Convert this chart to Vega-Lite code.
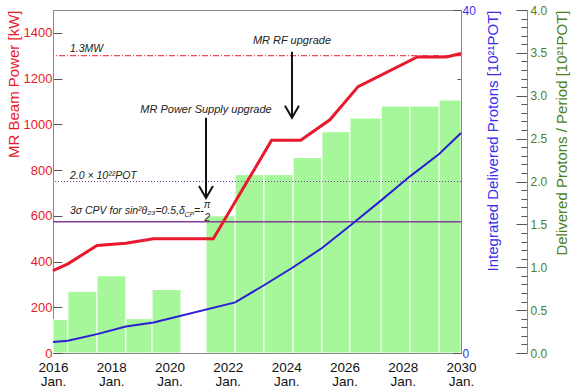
{
  "$schema": "https://vega.github.io/schema/vega-lite/v6.json",
  "width": 408,
  "height": 343,
  "autosize": {"type": "none"},
  "padding": {"left": 53, "top": 10, "right": 110, "bottom": 34},
  "background": "white",
  "config": {
    "font": "Liberation Sans",
    "view": {"stroke": "#888", "strokeWidth": 1},
    "axis": {"titleFontWeight": "normal", "zindex": 1, "domainColor": "#888", "tickColor": "#555", "grid": false}
  },
  "datasets": {
    "bars": [
      {"start": 2016.0, "end": 2016.51, "pot": 0.39},
      {"start": 2016.51, "end": 2017.51, "pot": 0.72},
      {"start": 2017.51, "end": 2018.5, "pot": 0.9},
      {"start": 2018.5, "end": 2019.4, "pot": 0.4},
      {"start": 2019.4, "end": 2020.39, "pot": 0.74},
      {"start": 2021.25, "end": 2022.25, "pot": 1.6},
      {"start": 2022.25, "end": 2023.24, "pot": 2.08},
      {"start": 2023.24, "end": 2024.24, "pot": 2.08},
      {"start": 2024.24, "end": 2025.23, "pot": 2.28},
      {"start": 2025.23, "end": 2026.19, "pot": 2.58},
      {"start": 2026.19, "end": 2027.26, "pot": 2.74},
      {"start": 2027.26, "end": 2028.25, "pot": 2.88},
      {"start": 2028.25, "end": 2029.25, "pot": 2.88},
      {"start": 2029.25, "end": 2030.0, "pot": 2.95}
    ],
    "power": [
      {"year": 2016.0, "kw": 360},
      {"year": 2016.51, "kw": 390},
      {"year": 2017.51, "kw": 470},
      {"year": 2018.5, "kw": 480},
      {"year": 2019.45, "kw": 500},
      {"year": 2021.5, "kw": 500},
      {"year": 2023.5, "kw": 930},
      {"year": 2024.5, "kw": 930},
      {"year": 2025.5, "kw": 1020},
      {"year": 2026.47, "kw": 1165},
      {"year": 2028.5, "kw": 1295},
      {"year": 2029.5, "kw": 1295},
      {"year": 2030.0, "kw": 1310}
    ],
    "integ": [
      {"year": 2016.0, "pot": 1.28},
      {"year": 2016.51, "pot": 1.43},
      {"year": 2017.51, "pot": 2.2},
      {"year": 2018.5, "pot": 3.1},
      {"year": 2019.45, "pot": 3.55},
      {"year": 2022.25, "pot": 5.9},
      {"year": 2023.24, "pot": 7.9},
      {"year": 2024.24, "pot": 10.0},
      {"year": 2025.23, "pot": 12.24},
      {"year": 2026.19, "pot": 14.85},
      {"year": 2027.26, "pot": 17.8},
      {"year": 2028.25, "pot": 20.6},
      {"year": 2029.25, "pot": 23.2},
      {"year": 2030.0, "pot": 25.65}
    ],
    "potTarget": [{"pot": 20}],
    "cpvLevel": [{"pot": 15.3}],
    "mwLevel": [{"kw": 1300}],
    "notes": [
      {"year": 2016.58, "kw": 1318, "label": "1.3MW"},
      {"year": 2016.58, "kw": 762, "label": "2.0 × 10²²POT"},
      {"year": 2016.58, "kw": 608, "label": "3σ CPV for sin²θ₂₃=0.5,δ"},
      {"year": 2020.84, "kw": 608, "label": "=-"}
    ],
    "subs": [{"year": 2020.51, "kw": 596, "label": "CP"}],
    "frac": [
      {"year": 2021.29, "kw": 633, "label": "π"},
      {"year": 2021.29, "kw": 579, "label": "2"}
    ],
    "upgrades": [
      {"year": 2024.2, "top": 1317, "tip": 1029, "textkw": 1352, "label": "MR RF upgrade"},
      {"year": 2021.25, "top": 1029, "tip": 678, "textkw": 1051, "label": "MR Power Supply upgrade"}
    ]
  },
  "layer": [
    {
      "data": {"name": "bars"},
      "mark": {"type": "bar", "fill": "#a6f69a", "stroke": "white", "strokeWidth": 1, "clip": true},
      "encoding": {
        "x": {
          "field": "start", "type": "quantitative",
          "scale": {"domain": [2016, 2030], "nice": false, "zero": false},
          "axis": {
            "values": [2016, 2017, 2018, 2019, 2020, 2021, 2022, 2023, 2024, 2025, 2026, 2027, 2028, 2029, 2030],
            "labelExpr": "datum.value % 2 === 0 ? [format(datum.value, 'd'), 'Jan.'] : ''",
            "tickSize": {"condition": {"test": "datum.value % 2 === 0", "value": -8}, "value": -4},
            "labelFontSize": 13.5, "labelColor": "#111", "labelLineHeight": 14, "labelPadding": 15,
            "labelFlush": false, "labelOverlap": false, "title": null
          }
        },
        "x2": {"field": "end"},
        "y": {
          "field": "pot", "type": "quantitative",
          "scale": {"domain": [0, 4], "nice": false},
          "axis": {
            "orient": "right", "offset": 66,
            "values": [0, 0.1, 0.2, 0.3, 0.4, 0.5, 0.6, 0.7, 0.8, 0.9, 1.0, 1.1, 1.2, 1.3, 1.4, 1.5, 1.6, 1.7, 1.8, 1.9, 2.0, 2.1, 2.2, 2.3, 2.4, 2.5, 2.6, 2.7, 2.8, 2.9, 3.0, 3.1, 3.2, 3.3, 3.4, 3.5, 3.6, 3.7, 3.8, 3.9, 4.0],
            "labelExpr": "abs(datum.value * 2 - round(datum.value * 2)) < 0.001 ? format(datum.value, '.1f') : ''",
            "tickSize": {"condition": {"test": "abs(datum.value * 2 - round(datum.value * 2)) < 0.001", "value": -11}, "value": -6},
            "labelColor": "#4a7f1e", "labelFontSize": 12, "labelPadding": 14, "labelOverlap": false, "labelFlush": false,
            "title": "Delivered Protons / Period [10²¹POT]", "titleColor": "#4a7f1e", "titleFontSize": 15,
            "titleAngle": 270, "titleAnchor": "end", "titlePadding": 23
          }
        },
        "y2": {"datum": 0}
      }
    },
    {
      "layer": [
        {
          "data": {"name": "potTarget"},
          "mark": {"type": "rule", "stroke": "#7a3fa0", "strokeWidth": 1, "strokeDash": [1, 2]},
          "encoding": {
            "y": {
              "field": "pot", "type": "quantitative",
              "scale": {"domain": [0, 40], "nice": false},
              "axis": {
                "orient": "right",
                "values": [0, 1, 2, 3, 4, 5, 6, 7, 8, 9, 10, 11, 12, 13, 14, 15, 16, 17, 18, 19, 20, 21, 22, 23, 24, 25, 26, 27, 28, 29, 30, 31, 32, 33, 34, 35, 36, 37, 38, 39, 40],
                "labelExpr": "datum.value % 5 === 0 ? datum.label : ''",
                "tickSize": {"condition": {"test": "datum.value % 5 === 0", "value": -8}, "value": -4},
                "labelColor": "#3a2df0", "labelFontSize": 12, "labelPadding": 9, "labelOverlap": false, "labelFlush": false,
                "title": "Integrated Delivered Protons [10²¹POT]", "titleColor": "#3a2df0", "titleFontSize": 15,
                "titleAngle": 270, "titleAnchor": "end", "titlePadding": 25
              }
            }
          }
        },
        {
          "data": {"name": "cpvLevel"},
          "mark": {"type": "rule", "stroke": "#7f3f98", "strokeWidth": 1.5},
          "encoding": {"y": {"field": "pot", "type": "quantitative"}}
        },
        {
          "data": {"name": "integ"},
          "mark": {"type": "line", "stroke": "#2b1fd6", "strokeWidth": 2},
          "encoding": {
            "x": {"field": "year", "type": "quantitative"},
            "y": {"field": "pot", "type": "quantitative"}
          }
        }
      ]
    },
    {
      "layer": [
        {
          "data": {"name": "mwLevel"},
          "mark": {"type": "rule", "stroke": "#e8192c", "strokeWidth": 1, "strokeDash": [6, 2, 1, 2]},
          "encoding": {
            "y": {
              "field": "kw", "type": "quantitative",
              "scale": {"domain": [0, 1500], "nice": false},
              "axis": {
                "orient": "left",
                "values": [0, 50, 100, 150, 200, 250, 300, 350, 400, 450, 500, 550, 600, 650, 700, 750, 800, 850, 900, 950, 1000, 1050, 1100, 1150, 1200, 1250, 1300, 1350, 1400, 1450, 1500],
                "labelExpr": "datum.value % 200 === 0 ? format(datum.value, 'd') : ''",
                "tickSize": {"condition": {"test": "datum.value % 200 === 0", "value": -9}, "value": -5},
                "labelColor": "#e8192c", "labelFontSize": 13, "labelPadding": 10, "labelOverlap": false, "labelFlush": false,
                "title": "MR Beam Power [kW]", "titleColor": "#e8192c", "titleFontSize": 15,
                "titleAnchor": "end", "titlePadding": 2
              }
            }
          }
        },
        {
          "data": {"name": "power"},
          "mark": {"type": "line", "stroke": "#e8192c", "strokeWidth": 3},
          "encoding": {
            "x": {"field": "year", "type": "quantitative"},
            "y": {"field": "kw", "type": "quantitative"}
          }
        },
        {
          "data": {"name": "notes"},
          "mark": {"type": "text", "align": "left", "baseline": "alphabetic", "fontStyle": "italic", "fontSize": 10.5, "color": "#222"},
          "encoding": {
            "x": {"field": "year", "type": "quantitative"},
            "y": {"field": "kw", "type": "quantitative"},
            "text": {"field": "label"}
          }
        },
        {
          "data": {"name": "subs"},
          "mark": {"type": "text", "align": "left", "baseline": "alphabetic", "fontStyle": "italic", "fontSize": 7, "color": "#222"},
          "encoding": {
            "x": {"field": "year", "type": "quantitative"},
            "y": {"field": "kw", "type": "quantitative"},
            "text": {"field": "label"}
          }
        },
        {
          "data": {"name": "frac"},
          "mark": {"type": "text", "align": "center", "baseline": "alphabetic", "fontStyle": "italic", "fontSize": 10, "color": "#222"},
          "encoding": {
            "x": {"field": "year", "type": "quantitative"},
            "y": {"field": "kw", "type": "quantitative"},
            "text": {"field": "label"}
          }
        },
        {
          "data": {"name": "upgrades"},
          "mark": {"type": "rule", "stroke": "#111", "strokeWidth": 2},
          "encoding": {
            "x": {"field": "year", "type": "quantitative"},
            "y": {"field": "top", "type": "quantitative"},
            "y2": {"field": "tip"}
          }
        },
        {
          "data": {"name": "upgrades"},
          "mark": {"type": "point", "shape": "M-1,-1.7L0,0L1,-1.7", "filled": false, "stroke": "#111", "strokeWidth": 2, "size": 196, "opacity": 1},
          "encoding": {
            "x": {"field": "year", "type": "quantitative"},
            "y": {"field": "tip", "type": "quantitative"}
          }
        },
        {
          "data": {"name": "upgrades"},
          "mark": {"type": "text", "align": "center", "baseline": "alphabetic", "fontStyle": "italic", "fontSize": 11, "color": "#222"},
          "encoding": {
            "x": {"field": "year", "type": "quantitative"},
            "y": {"field": "textkw", "type": "quantitative"},
            "text": {"field": "label"}
          }
        }
      ]
    }
  ],
  "resolve": {"scale": {"y": "independent"}, "axis": {"y": "independent"}}
}
